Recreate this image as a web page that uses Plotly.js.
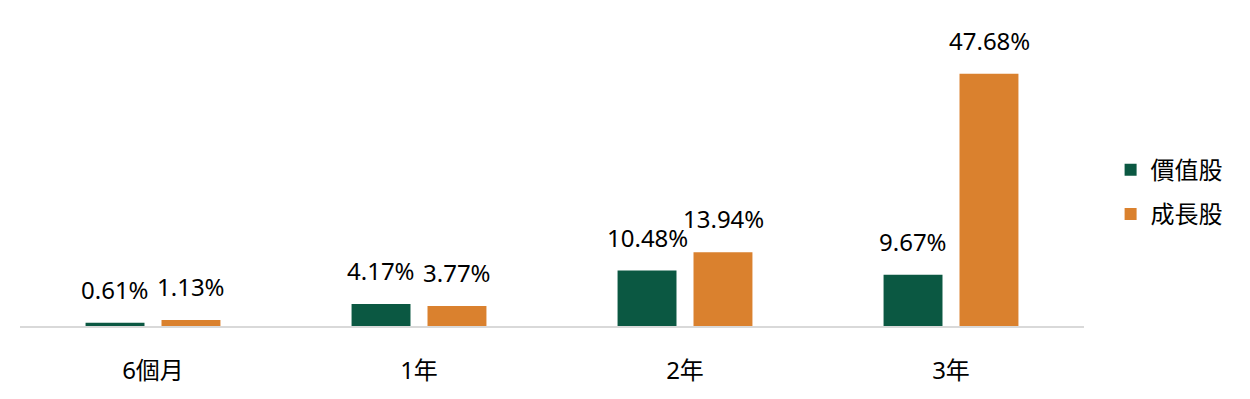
<!DOCTYPE html>
<html><head><meta charset="utf-8">
<script src="https://cdn.plot.ly/plotly-3.0.1.min.js"></script>
<style>html,body{margin:0;padding:0;background:#fff}#c{width:1250px;height:399px}</style>
</head><body><div id="c"></div>
<script>
const categories = ["6個月", "1年", "2年", "3年"];
const valueStocks = [0.61, 4.17, 10.48, 9.67];
const growthStocks = [1.13, 3.77, 13.94, 47.68];
const seriesNames = ["價值股", "成長股"];
const colors = ["#0b5842", "#da812e"];

const FONT = "'Noto Sans', 'Noto Sans CJK TC', sans-serif";
const series = [valueStocks, growthStocks];
const traces = series.map((vals, i) => ({
  type: "bar", x: categories, y: vals, name: seriesNames[i],
  marker: {color: colors[i]}, legendgroup: "g" + i, hoverinfo: "none"
}));
const annotations = [];
series.forEach((vals, i) => {
  vals.forEach((v, j) => {
    annotations.push({
      x: categories[j], y: v, xref: "x", yref: "y",
      text: v.toFixed(2) + "%", showarrow: false,
      yanchor: "bottom", xanchor: "center",
      xshift: i === 0 ? -38 : 38, yshift: 15,
      font: {family: FONT, size: 24, color: "#000"}
    });
  });
});
const layout = {
  width: 1250, height: 399,
  margin: {l: 20, r: 166, t: 35, b: 73},
  paper_bgcolor: "#fff", plot_bgcolor: "#fff",
  barmode: "group", bargap: 0.429, bargroupgap: 0.224,
  font: {family: FONT, size: 24, color: "#000"},
  xaxis: {type: "category", showline: true, linecolor: "#d9d9d9", linewidth: 2,
    ticks: "", ticklabelstandoff: 22, tickfont: {family: FONT, size: 24, color: "#000"},
    showgrid: false, zeroline: false, fixedrange: true},
  yaxis: {range: [0, 55], visible: false, showgrid: false, zeroline: false, fixedrange: true},
  legend: {x: 1.025, y: 0.46, xanchor: "left", yanchor: "middle",
    font: {family: FONT, size: 24, color: "#000"}, tracegroupgap: 10, traceorder: "grouped"},
  annotations: annotations,
  showlegend: true
};
Plotly.newPlot("c", traces, layout, {displayModeBar: false, staticPlot: true});
</script></body></html>
